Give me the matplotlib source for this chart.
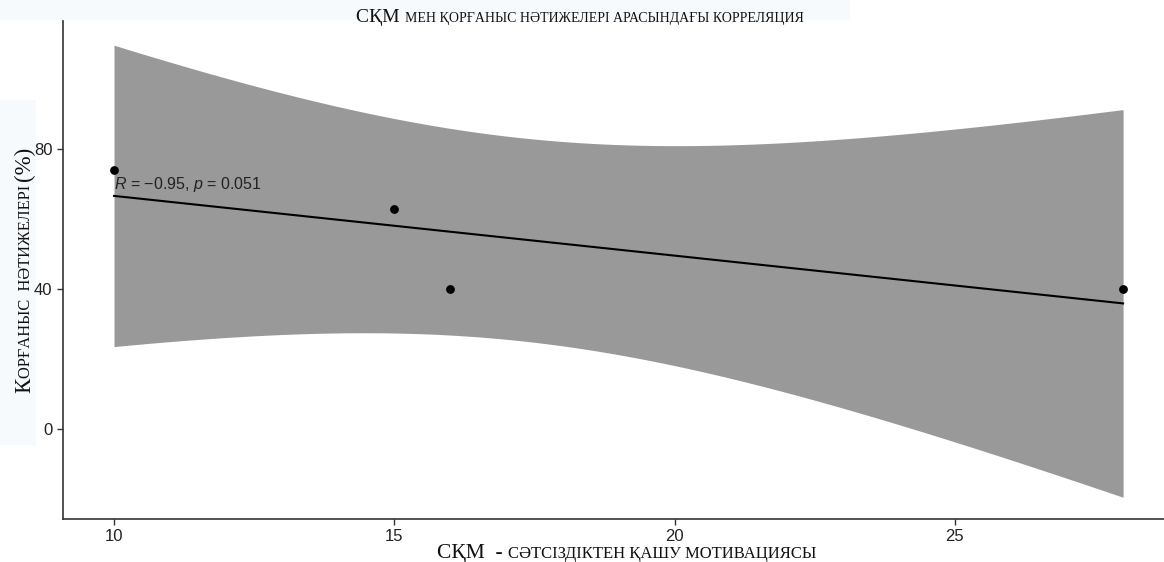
import numpy as np
import matplotlib
matplotlib.use("Agg")
import matplotlib.pyplot as plt
from matplotlib.patches import Rectangle

# data
x_vals = [10, 15, 16, 28]
y_vals = [74, 63, 40, 40]
x_ticks = [10, 15, 20, 25]
y_ticks = [0, 40, 80]

x = np.array(x_vals, float)
y = np.array(y_vals, float)
n = len(x)
xm, ym = x.mean(), y.mean()
sxx = ((x - xm) ** 2).sum()
sxy = ((x - xm) * (y - ym)).sum()
b = sxy / sxx
a = ym - b * xm
res = y - (a + b * x)
s = np.sqrt((res ** 2).sum() / (n - 2))
tcrit = 4.302653  # t(0.975, df=2)
xg = np.linspace(x.min(), x.max(), 200)
fit = a + b * xg
se = s * np.sqrt(1 / n + (xg - xm) ** 2 / sxx)
lo, hi = fit - tcrit * se, fit + tcrit * se

plt.rcParams["mathtext.fontset"] = "custom"
plt.rcParams["mathtext.it"] = "Liberation Sans:italic"
plt.rcParams["mathtext.rm"] = "Liberation Sans"

W, H = 1164, 562
fig = plt.figure(figsize=(W / 100, H / 100), dpi=100)
fig.patch.set_facecolor("white")
# faint background patches
fig.patches.append(Rectangle((0, 1 - 20 / H), 850 / W, 20 / H, transform=fig.transFigure,
                             facecolor="#f7fafd", edgecolor="none", zorder=-5))
fig.patches.append(Rectangle((0, 1 - 445 / H), 36 / W, 345 / H, transform=fig.transFigure,
                             facecolor="#f7fafd", edgecolor="none", zorder=-5))

ax = fig.add_axes([63 / W, (H - 519) / H, (W - 63) / W, (519 - 21) / H])
ax.set_zorder(2)
ax.set_facecolor("none")
ax.fill_between(xg, lo, hi, color="#999999", linewidth=0, zorder=1)
ax.plot(xg, fit, color="black", lw=1.5, zorder=2)
ax.scatter(x, y, s=28, color="black", zorder=3)
ax.set_xlim(9.09, 28.73)
ax.set_ylim(-25.7, 116.6)
ax.set_xticks(x_ticks)
ax.set_yticks(y_ticks)
for sp in ["top", "right"]:
    ax.spines[sp].set_visible(False)
for sp in ["left", "bottom"]:
    ax.spines[sp].set_color("#333333")
    ax.spines[sp].set_linewidth(1.2)
ax.tick_params(axis="both", colors="#333333", length=4, width=1.0,
               labelsize=12, labelcolor="#222222")
for lab in ax.get_xticklabels() + ax.get_yticklabels():
    lab.set_fontfamily("Liberation Sans")

ax.text(10, 67.2, "$R$ = \u22120.95, $p$ = 0.051", fontsize=11.5, family="Liberation Sans",
        color="#222222", ha="left", va="bottom", zorder=4)

renderer = fig.canvas.get_renderer()


def seg_text(segments, x0, y0, rotation=0):
    # segments: list of (text, size); positions in pixels, baseline
    arts = []
    widths = []
    for t, sz in segments:
        tx = fig.text(0, 0, t, fontsize=sz, family="Liberation Serif", color="#111111",
                      rotation=rotation, ha="left", va="baseline", rotation_mode="anchor",
                      zorder=5)
        bb = tx.get_window_extent(renderer)
        widths.append(bb.width if rotation == 0 else bb.height)
        arts.append(tx)
    total = sum(widths)
    pos = -total / 2
    for tx, w in zip(arts, widths):
        if rotation == 0:
            tx.set_position(((x0 + pos) / W, y0 / H))
        else:
            tx.set_position((x0 / W, (y0 + pos) / H))
        pos += w


seg_text([("СҚМ ", 14), ("МЕН ҚОРҒАНЫС НӘТИЖЕЛЕРІ АРАСЫНДАҒЫ КОРРЕЛЯЦИЯ", 10)], 580, H - 22)
seg_text([("СҚМ  - ", 15.5), ("СӘТСІЗДІКТЕН ҚАШУ МОТИВАЦИЯСЫ", 12)], 627, H - 558)
seg_text([("К", 16.5), ("ОРҒАНЫС  НӘТИЖЕЛЕРІ ", 11.8), ("(%)", 16.5)], 30, H - 270, rotation=90)

fig.savefig("out.png", dpi=100)
